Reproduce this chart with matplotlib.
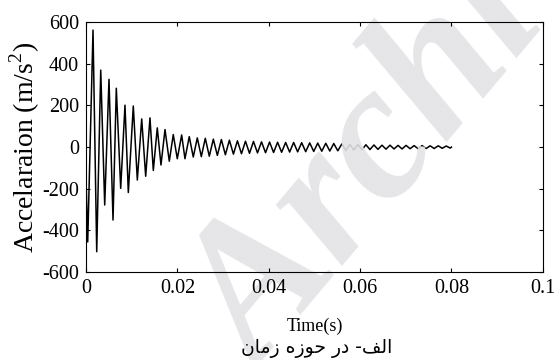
import matplotlib
matplotlib.use("Agg")
import matplotlib.pyplot as plt

# extrema of the damped acceleration signal (time in s, value in m/s^2)
times = [0.00000, 0.00037, 0.00153, 0.00234, 0.00322, 0.00409, 0.00503, 0.00591,
         0.00663, 0.00759, 0.00853, 0.00926, 0.01035, 0.01123, 0.01219, 0.01306,
         0.01400, 0.01473, 0.01560, 0.01641, 0.01729, 0.01823, 0.01910, 0.01998,
         0.02094, 0.02166, 0.02260, 0.02348, 0.02436, 0.02524, 0.02611, 0.02699,
         0.02787, 0.02875, 0.02963, 0.03051, 0.03139, 0.03227, 0.03315, 0.03403,
         0.03491, 0.03579, 0.03666, 0.03754, 0.03842, 0.03930, 0.04018, 0.04106,
         0.04194, 0.04282, 0.04370, 0.04458, 0.04545, 0.04633, 0.04721, 0.04809,
         0.04897, 0.04985, 0.05073, 0.05161, 0.05249, 0.05337, 0.05424, 0.05512,
         0.05600, 0.05688, 0.05776, 0.05864, 0.05952, 0.06040, 0.06128, 0.06216,
         0.06303, 0.06391, 0.06479, 0.06567, 0.06655, 0.06743, 0.06831, 0.06919,
         0.07007, 0.07095, 0.07182, 0.07270, 0.07358, 0.07446, 0.07534, 0.07622,
         0.07710, 0.07798, 0.07886, 0.07974, 0.08000]
accel = [-150, -455, 561, -502, 369, -278, 325, -350,
         282, -198, 201, -218, 197, -158, 135, -140,
         140, -112, 92, -86, 84, -68, 60, -56,
         58, -56, 50, -48, 44, -46, 42, -44,
         38, -40, 36, -37, 33, -34, 30, -32,
         28, -30, 27, -28, 25, -27, 24, -26,
         23, -25, 22, -24, 22, -23, 21, -22,
         20, -21, 19, -20, 18, -19, 17, -18,
         15, -16, 13, -14, 12, -13, 11, -12,
         10, -11, 9, -10, 9, -9, 8, -9,
         8, -8, 7, -8, 7, -7, 6, -7,
         6, -6, 5, -5, 0]

xticks = [0, 0.02, 0.04, 0.06, 0.08, 0.1]
xtick_labels = ["0", "0.02", "0.04", "0.06", "0.08", "0.1"]
yticks = [-600, -400, -200, 0, 200, 400, 600]

plt.rcParams["font.family"] = ["Liberation Serif", "DejaVu Sans"]
plt.rcParams["mathtext.fontset"] = "custom"
plt.rcParams["mathtext.rm"] = "Liberation Serif"
plt.rcParams["axes.unicode_minus"] = False

fig = plt.figure(figsize=(5.55, 3.6), dpi=100)
ax = fig.add_axes([0.155, 0.244, 0.823, 0.695])
ax.plot(times, accel, color="black", lw=1.1, zorder=2)
ax.set_xlim(0, 0.1)
ax.set_ylim(-600, 600)
ax.set_xticks(xticks)
ax.set_xticklabels(xtick_labels)
ax.set_yticks(yticks)
ax.tick_params(direction="in", length=3, width=0.8, top=True, right=True,
               labelsize=14.5, pad=5)
for s in ax.spines.values():
    s.set_linewidth(0.8)
ax.set_xlabel("Time(s)", fontsize=13, labelpad=14)
ax.set_ylabel("Accelaraion (m/s$^2$)", fontsize=20, labelpad=0)
ax.xaxis.set_zorder(3)
ax.yaxis.set_zorder(3)

# watermark: above the curve, below axis texts
ax.text(0.47, -0.045, "Archive", transform=fig.transFigure, clip_on=False,
        rotation=50, rotation_mode="anchor", ha="left", va="baseline",
        fontsize=140, fontweight="bold", fontstyle="italic",
        color="#e3e3e6", alpha=0.9, family=["Liberation Serif"], zorder=2.2)

# caption (Persian, presentation forms in visual order)
caption = "\uFEE5\uFE8E\uFEE3\uFEAF \uFEE9\uFEAF\uFEEE\uFEA3 \uFEAD\uFEA9 -\uFED2\uFEDF\uFE8D"
fig.text(0.57, 0.033, caption, ha="center", va="center", fontsize=13.5,
         family=["DejaVu Sans"], zorder=5)

fig.savefig("out.png", dpi=100)
